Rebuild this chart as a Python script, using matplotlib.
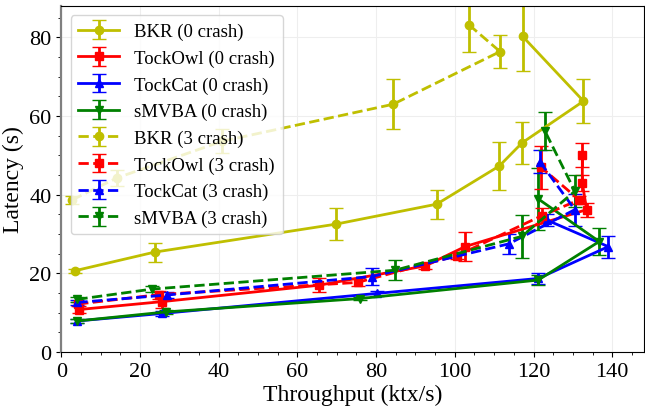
import matplotlib.pyplot as plt
from matplotlib.ticker import MultipleLocator

plt.rcParams['font.family'] = ['Liberation Serif', 'DejaVu Serif']

# throughput (ktx/s), latency (s), latency error (s)
bkr0_x = [3.6, 23.7, 69.7, 95.4, 111.3, 117.1, 132.7, 117.2]
bkr0_y = [20.7, 25.4, 32.5, 37.6, 47.3, 53.2, 63.8, 80.3]
bkr0_e = [0.5, 2.4, 4.1, 3.7, 6.2, 5.3, 5.6, 8.8]

owl0_x = [4.5, 25.5, 65.6, 92.5, 102.6, 133.5, 132.4, 132.4]
owl0_y = [10.8, 12.8, 17.0, 21.9, 26.8, 36.2, 43.0, 50.1]
owl0_e = [1.0, 1.5, 1.8, 0.8, 3.7, 1.8, 2.0, 3.0]

cat0_x = [4.1, 25.6, 80.2, 121.2, 139.0, 123.3]
cat0_y = [7.9, 9.8, 14.9, 18.7, 26.8, 33.6]
cat0_e = [0.5, 0.6, 0.6, 1.5, 2.8, 1.5]

mvba0_x = [4.1, 26.7, 76.0, 121.2, 136.7, 121.1]
mvba0_y = [7.9, 10.2, 13.6, 18.3, 28.1, 39.0]
mvba0_e = [0.4, 0.6, 0.5, 1.2, 3.4, 7.9]

bkr3_x = [2.8, 14.2, 40.9, 84.3, 111.5, 103.6]
bkr3_y = [38.7, 44.3, 53.6, 63.0, 76.4, 83.2]
bkr3_e = [1.0, 2.0, 3.0, 6.4, 4.2, 7.0]

owl3_x = [4.3, 24.8, 75.3, 100.5, 122.2, 131.6, 121.9]
owl3_y = [12.2, 14.6, 17.7, 24.5, 34.7, 38.7, 47.0]
owl3_e = [0.6, 1.0, 1.0, 0.8, 1.8, 1.0, 5.5]

cat3_x = [4.1, 26.9, 78.9, 113.7, 130.5, 121.6]
cat3_y = [12.6, 14.5, 19.2, 27.5, 36.2, 48.4]
cat3_e = [0.6, 0.8, 2.2, 2.5, 4.1, 2.9]

mvba3_x = [4.1, 23.1, 84.8, 117.0, 130.5, 122.9]
mvba3_y = [13.4, 16.0, 20.8, 29.4, 40.9, 56.2]
mvba3_e = [0.6, 0.8, 2.5, 5.5, 4.1, 4.8]

series = [
    (bkr0_x, bkr0_y, bkr0_e, 'y', 'o', '-', 'BKR (0 crash)'),
    (owl0_x, owl0_y, owl0_e, 'r', 's', '-', 'TockOwl (0 crash)'),
    (cat0_x, cat0_y, cat0_e, 'b', '^', '-', 'TockCat (0 crash)'),
    (mvba0_x, mvba0_y, mvba0_e, 'g', 'v', '-', 'sMVBA (0 crash)'),
    (bkr3_x, bkr3_y, bkr3_e, 'y', 'o', '--', 'BKR (3 crash)'),
    (owl3_x, owl3_y, owl3_e, 'r', 's', '--', 'TockOwl (3 crash)'),
    (cat3_x, cat3_y, cat3_e, 'b', '^', '--', 'TockCat (3 crash)'),
    (mvba3_x, mvba3_y, mvba3_e, 'g', 'v', '--', 'sMVBA (3 crash)'),
]

fig, ax = plt.subplots(figsize=(6.45, 4.1), dpi=100)
fig.subplots_adjust(left=0.095, right=0.998, top=0.983, bottom=0.139)

for x, y, e, c, m, ls, label in series:
    ax.errorbar(x, y, yerr=e, color=c, marker=m, linestyle=ls, lw=2,
                ms=6, capsize=5, elinewidth=2, label=label)

ax.set_xlim(0, 148)
ax.set_ylim(0, 88)
ax.xaxis.set_major_locator(MultipleLocator(20))
ax.xaxis.set_minor_locator(MultipleLocator(5))
ax.yaxis.set_major_locator(MultipleLocator(20))
ax.yaxis.set_minor_locator(MultipleLocator(5))
ax.tick_params(labelsize=16)
ax.grid(True, color='#eeeeee', lw=0.8)
ax.spines['left'].set_color('gray')
ax.spines['left'].set_linewidth(1.6)
ax.set_xlabel('Throughput (ktx/s)', fontsize=17, labelpad=2)
ax.set_ylabel('Latency (s)', fontsize=17)
ax.legend(loc='upper left', fontsize=13.5, handlelength=2.2)

fig.savefig('out.png')
